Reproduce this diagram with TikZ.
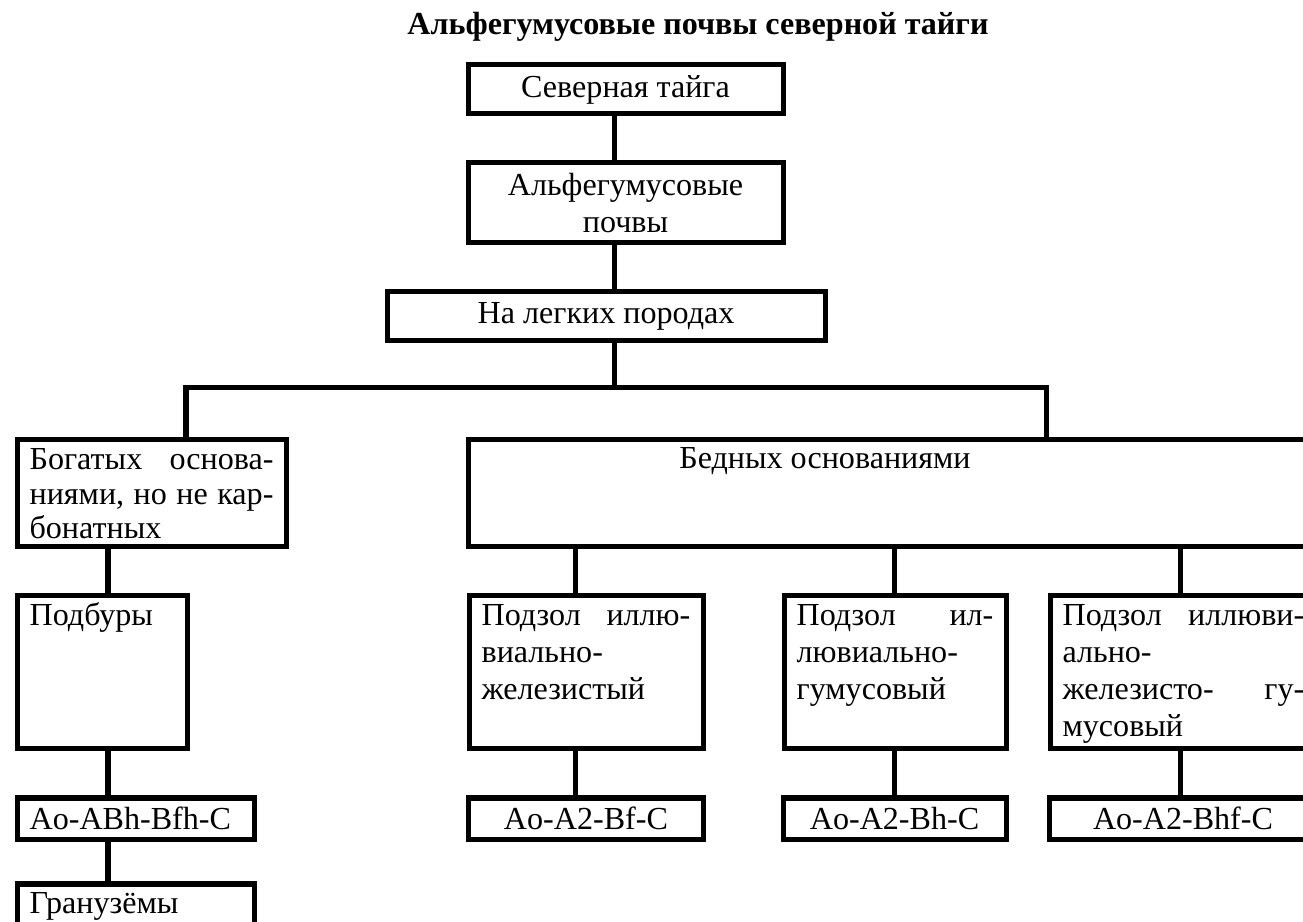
\documentclass[tikz,border=0pt]{standalone}
\usepackage{fontspec}
\setmainfont{Liberation Serif}
\usepackage{tikz}

\begin{document}
\begin{tikzpicture}[
    x=0.4675pt, y=-0.4675pt,
    block/.style={draw, line width=2.34pt, anchor=north west, inner xsep=5.9pt,
                  inner ysep=4pt, align=center, font=\fontsize{15}{17.2}\selectfont},
    leftblock/.style={block, align=left, text width=#1},
    topblock/.style={block, align=left, text height=10pt},
    profile/.style={minimum height=19.6pt, text height=10.5pt, text depth=1pt},
    link/.style={line width=2.34pt}
]
    \useasboundingbox (0,0) rectangle (1303,922);
    \clip (0,0) rectangle (1303,922);

    % Heading
    \node[font=\fontsize{15}{18}\selectfont\bfseries, anchor=base] (heading) at (698,35)
        {Альфегумусовые почвы северной тайги};

    % Top chain
    \node[block, minimum width=147.3pt, minimum height=22.9pt] (taiga) at (465.5,62.5) {Северная тайга};
    \node[block, minimum width=147.3pt, minimum height=37.4pt] (alfe) at (465.5,160.5) {Альфегумусовые\\почвы};
    \node[block, minimum width=204.8pt, minimum height=22.9pt] (light) at (384.5,289.5) {На легких породах};

    % Second level
    \node[topblock, text width=114pt, text depth=31.6pt, font=\fontsize{15}{16}\selectfont] (rich) at (14.5,437.5)
        {Богатых\hfill основа-\\ниями,\hfill но\hfill не\hfill кар-\\бонатных};
    \node[block, minimum width=404.2pt, minimum height=49.6pt] (poor) at (465.5,437.5) {};
    \node[anchor=base, font=\fontsize{15}{17.2}\selectfont] (poortitle) at (825,469) {Бедных основаниями};

    % Third level
    \node[topblock, text width=68.1pt, text depth=53.1pt] (podb) at (14.5,593.5) {Подбуры};
    \node[topblock, text width=97.6pt, text depth=53.1pt] (podzA) at (466.5,593.5)
        {Подзол\hfill иллю-\\виально-\\железистый};
    \node[topblock, text width=92pt, text depth=53.1pt] (podzB) at (781.5,593.5)
        {Подзол\hfill ил-\\лювиально-\\гумусовый};
    \node[topblock, text width=113pt, text depth=53.1pt] (podzC) at (1047.5,593.5)
        {Подзол\hfill иллюви-\\ально-\\железисто-\hfill гу-\\мусовый};

    % Profiles
    \node[leftblock=99pt, profile] (profR) at (14.5,795.5) {Ao-ABh-Bfh-C};
    \node[block, profile, minimum width=110.3pt] (profA) at (465.5,795.5) {Ao-A2-Bf-C};
    \node[block, profile, minimum width=104.3pt] (profB) at (780.5,795.5) {Ao-A2-Bh-C};
    \node[block, profile, minimum width=125.3pt] (profC) at (1046.5,795.5) {Ao-A2-Bhf-C};
    \node[topblock, text width=99pt, text depth=18.7pt] (gran) at (14.5,881.5) {Гранузёмы};

    % Connector columns
    \coordinate (trunk) at (614,388);
    \coordinate (richdrop) at (186,388);
    \coordinate (poordrop) at (1046,388);
    \coordinate (leftcol) at (108,0);
    \coordinate (colA) at (575,0);
    \coordinate (colB) at (894,0);
    \coordinate (colC) at (1180,0);

    % Links
    \draw[link] (taiga.south -| trunk) -- (alfe.north -| trunk);
    \draw[link] (alfe.south -| trunk) -- (light.north -| trunk);
    \draw[link] (light.south -| trunk) -- (trunk);
    \draw[link] (rich.north -| richdrop) -- (richdrop) -- (poordrop) -- (poor.north -| poordrop);

    \draw[link] (rich.south -| leftcol) -- (podb.north -| leftcol);
    \draw[link] (podb.south -| leftcol) -- (profR.north -| leftcol);
    \draw[link] (profR.south -| leftcol) -- (gran.north -| leftcol);

    \draw[link] (poor.south -| colA) -- (podzA.north -| colA);
    \draw[link] (poor.south -| colB) -- (podzB.north -| colB);
    \draw[link] (poor.south -| colC) -- (podzC.north -| colC);
    \draw[link] (podzA.south -| colA) -- (profA.north -| colA);
    \draw[link] (podzB.south -| colB) -- (profB.north -| colB);
    \draw[link] (podzC.south -| colC) -- (profC.north -| colC);
\end{tikzpicture}
\end{document}
